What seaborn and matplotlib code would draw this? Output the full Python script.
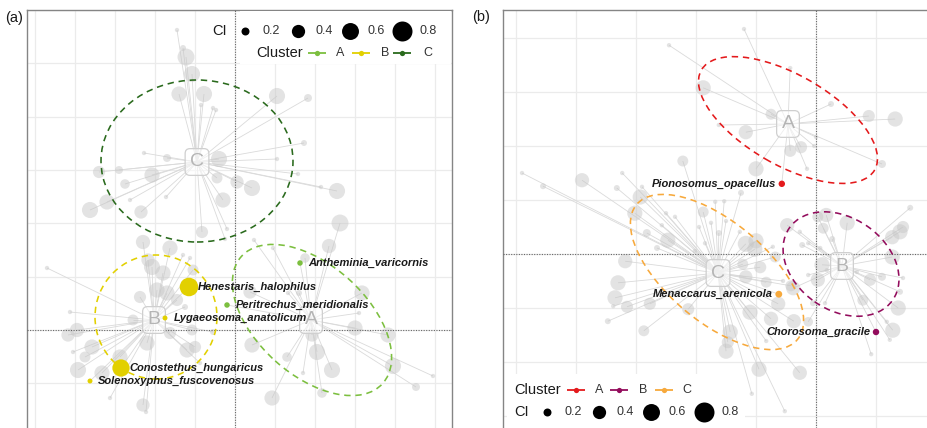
import numpy as np
import pandas as pd
import matplotlib
matplotlib.use("Agg")
import matplotlib.pyplot as plt
from matplotlib.patches import Ellipse, Rectangle
from matplotlib.collections import LineCollection
import seaborn as sns

# ── Panel (a): grey species per cluster ───────────────────────────────────
A_A_X = [0.2625, 0.235, 0.0475, 0.095, 0.1325, 0.16, 0.175, 0.0375, 0.3175, 0.31, 0.30, 0.3825,
         0.395, 0.495, 0.4525, 0.2425, 0.205, 0.1925, 0.17, 0.13, 0.2175, 0.0925, 0.0425]
A_A_Y = [0.2675, 0.21, 0.225, 0.205, 0.0925, 0.0925, 0.18, 0.095, 0.0925, 0.0425, 0.005, -0.0125,
         -0.09, -0.115, -0.1425, -0.10, -0.055, -0.0125, -0.1075, -0.0675, -0.1575, -0.17, -0.0375]
A_A_CI = [0.6, 0.45, 0.12, 0.12, 0.12, 0.15, 0.25, 0.4, 0.5, 0.12, 0.5, 0.5,
          0.55, 0.12, 0.2, 0.55, 0.55, 0.4, 0.12, 0.25, 0.25, 0.5, 0.5]

A_B_X = [-0.23, -0.1625, -0.2075, -0.18, -0.2175, -0.195, -0.17, -0.145, -0.13, -0.1125, -0.105, -0.125,
         -0.47, -0.4125, -0.395, -0.4175, -0.3575, -0.375, -0.405, -0.3925, -0.3325, -0.2875, -0.3125,
         -0.23, -0.2225, -0.22, -0.255, -0.2375, -0.12, -0.10, -0.1075, -0.055, -0.0875, -0.1625]
A_B_Y = [0.22, 0.205, 0.1575, 0.1425, 0.175, 0.10, 0.0925, 0.075, 0.1875, 0.18, 0.15, 0.0575,
         0.155, 0.045, 0.0, -0.0125, -0.0425, -0.0675, -0.055, -0.10, -0.1075, -0.0675, -0.17,
         -0.1875, -0.205, -0.0325, 0.025, 0.0825, -0.05, -0.0425, 0.0, -0.005, -0.0825, -0.0075]
A_B_CI = [0.45, 0.5, 0.55, 0.5, 0.4, 0.5, 0.5, 0.35, 0.12, 0.12, 0.3, 0.15,
          0.12, 0.12, 0.45, 0.4, 0.5, 0.3, 0.12, 0.55, 0.5, 0.5, 0.12,
          0.4, 0.12, 0.5, 0.3, 0.35, 0.5, 0.35, 0.3, 0.15, 0.12, 0.35]

A_C_X = [-0.145, -0.13, -0.1225, -0.1075, -0.14, -0.0775, -0.085, -0.055, -0.0475, 0.105, 0.1825, 0.1725,
         0.105, 0.1575, 0.215, 0.255, -0.04, -0.045, 0.005, 0.0425, -0.03, -0.2275, -0.17, -0.34,
         -0.29, -0.2075, -0.275, -0.2625, -0.1725, -0.3625, -0.32, -0.235, -0.0825, -0.025, -0.02]
A_C_Y = [0.75, 0.705, 0.6825, 0.64, 0.59, 0.59, 0.5625, 0.555, 0.55, 0.585, 0.58, 0.4675,
         0.4275, 0.39, 0.3575, 0.3475, 0.4275, 0.38, 0.37, 0.355, 0.325, 0.4425, 0.43, 0.395,
         0.40, 0.3875, 0.365, 0.325, 0.3325, 0.30, 0.32, 0.295, 0.245, 0.2275, 0.2525]
A_C_CI = [0.12, 0.15, 0.6, 0.55, 0.5, 0.55, 0.12, 0.12, 0.12, 0.55, 0.2, 0.15,
          0.12, 0.12, 0.12, 0.55, 0.55, 0.3, 0.4, 0.55, 0.5, 0.12, 0.2, 0.35,
          0.2, 0.5, 0.25, 0.12, 0.12, 0.55, 0.5, 0.4, 0.35, 0.12, 0.12]

# highlighted species (a)
A_SP_NAMES = ["Antheminia_varicornis", "Henestaris_halophilus", "Peritrechus_meridionalis",
              "Lygaeosoma_anatolicum", "Conostethus_hungaricus", "Solenoxyphus_fuscovenosus"]
A_SP_X = [0.1625, -0.115, -0.02, -0.175, -0.285, -0.3625]
A_SP_Y = [0.1675, 0.1075, 0.0625, 0.03, -0.095, -0.1275]
A_SP_CI = [0.14, 0.7, 0.14, 0.13, 0.62, 0.13]
A_SP_CL = ["A", "B", "A", "B", "B", "B"]

A_CENT_X = [0.19, -0.2025, -0.095]
A_CENT_Y = [0.025, 0.025, 0.42]
# ellipse: centre, semi-axes, angle (deg)
A_ELL_CX = [0.1925, -0.1975, -0.095]
A_ELL_CY = [0.025, 0.0325, 0.4225]
A_ELL_RA = [0.2375, 0.1525, 0.24]
A_ELL_RB = [0.1375, 0.155, 0.2025]
A_ELL_ANG = [-42, 0, 0]

# ── Panel (b) ─────────────────────────────────────────────────────────────
B_A_X = [-0.12, -0.245, -0.188, -0.043, -0.075, -0.162, -0.117, 0.025, 0.088, 0.132, 0.0, -0.003,
         -0.025, -0.043, -0.015, -0.10, 0.11]
B_A_Y = [0.375, 0.348, 0.277, 0.31, 0.233, 0.215, 0.203, 0.25, 0.23, 0.225, 0.195, 0.18,
         0.178, 0.172, 0.142, 0.142, 0.15]
B_A_CI = [0.12, 0.12, 0.5, 0.12, 0.3, 0.12, 0.45, 0.15, 0.35, 0.5, 0.12, 0.12,
          0.35, 0.35, 0.12, 0.5, 0.2]

B_B_X = [0.017, 0.052, -0.048, 0.003, 0.012, 0.027, -0.027, -0.013, -0.023, 0.007, 0.01, 0.003,
         0.018, -0.013, -0.038, -0.005, -0.013, 0.015, 0.078, 0.09, 0.11, 0.068, 0.127, 0.14,
         0.145, 0.157, 0.127, 0.137, 0.128, 0.118, 0.123, 0.14, 0.145, 0.092]
B_B_Y = [0.065, 0.052, 0.048, 0.062, 0.043, 0.025, 0.037, 0.018, 0.015, 0.01, -0.018, -0.043,
         -0.027, -0.035, -0.057, -0.082, -0.113, -0.082, -0.077, -0.043, -0.038, -0.03, 0.028, 0.037,
         0.045, 0.077, -0.005, -0.09, -0.127, -0.113, -0.143, -0.063, -0.04, -0.167]
B_B_CI = [0.45, 0.5, 0.45, 0.3, 0.3, 0.15, 0.12, 0.12, 0.15, 0.12, 0.5, 0.45,
          0.12, 0.12, 0.45, 0.15, 0.25, 0.12, 0.3, 0.35, 0.2, 0.12, 0.45, 0.5,
          0.35, 0.15, 0.5, 0.5, 0.5, 0.12, 0.12, 0.15, 0.12, 0.12]

B_C_X = [-0.49, -0.455, -0.39, -0.323, -0.332, -0.293, -0.222, -0.29, -0.302, -0.25, -0.188, -0.168,
         -0.153, -0.125, -0.282, -0.235, -0.257, -0.247, -0.265, -0.318, -0.33, -0.335, -0.338, -0.315,
         -0.347, -0.277, -0.287, -0.213, -0.195, -0.175, -0.185, -0.15, -0.162, -0.127, -0.117, -0.10,
         -0.102, -0.122, -0.117, -0.093, -0.083, -0.068, -0.072, -0.055, -0.042, -0.063, -0.11, -0.075,
         -0.037, -0.143, -0.147, -0.15, -0.083, -0.095, -0.107, -0.027, -0.052, -0.202]
B_C_Y = [0.135, 0.113, 0.123, 0.135, 0.11, 0.095, 0.155, 0.112, 0.068, 0.068, 0.07, 0.087,
         0.088, 0.102, 0.035, 0.062, 0.048, 0.023, 0.01, -0.012, -0.048, -0.073, -0.087, -0.088,
         -0.112, -0.083, -0.128, -0.092, 0.045, 0.052, 0.018, 0.055, 0.035, 0.037, 0.017, 0.022,
         0.008, -0.017, -0.038, -0.022, -0.047, -0.005, 0.012, -0.045, -0.053, -0.083, -0.097, -0.108,
         -0.112, -0.13, -0.147, -0.162, -0.145, -0.192, -0.233, -0.198, -0.262, 0.005]
B_C_CI = [0.12, 0.15, 0.45, 0.12, 0.15, 0.5, 0.3, 0.12, 0.5, 0.12, 0.3, 0.12,
          0.12, 0.15, 0.2, 0.12, 0.12, 0.5, 0.15, 0.45, 0.5, 0.5, 0.12, 0.35,
          0.15, 0.35, 0.3, 0.35, 0.12, 0.12, 0.12, 0.12, 0.15, 0.12, 0.55, 0.5,
          0.5, 0.3, 0.4, 0.35, 0.3, 0.3, 0.12, 0.12, 0.3, 0.45, 0.5, 0.45,
          0.45, 0.5, 0.35, 0.5, 0.12, 0.5, 0.12, 0.45, 0.12, 0.12]

B_SP_NAMES = ["Pionosomus_opacellus", "Menaccarus_arenicola", "Chorosoma_gracile"]
B_SP_X = [-0.057, -0.062, 0.1]
B_SP_Y = [0.117, -0.067, -0.13]
B_SP_CI = [0.16, 0.17, 0.16]
B_SP_CL = ["A", "C", "B"]

B_CENT_X = [-0.0467, 0.0433, -0.1633]
B_CENT_Y = [0.2167, -0.02, -0.0317]
B_ELL_CX = [-0.0467, 0.0417, -0.165]
B_ELL_CY = [0.2233, -0.0167, -0.03]
B_ELL_RA = [0.1667, 0.105, 0.175]
B_ELL_RB = [0.075, 0.0767, 0.0833]
B_ELL_ANG = [-30, -35, -40]

CLUSTERS = ["A", "B", "C"]
CI_LEVELS = [0.2, 0.4, 0.6, 0.8]
PAL_A = {"A": "#7cbf3f", "B": "#e2d000", "C": "#2a6a1d"}
PAL_B = {"A": "#e41a1c", "B": "#930c5c", "C": "#f7a93c"}

SIZES = (4, 236)
SIZE_NORM = (0.1, 0.9)


def ci_area(v):
    return SIZES[0] + (v - SIZE_NORM[0]) / (SIZE_NORM[1] - SIZE_NORM[0]) * (SIZES[1] - SIZES[0])


def frame(groups):
    rows = []
    for cl, xs, ys, cis in groups:
        for x, y, c in zip(xs, ys, cis):
            rows.append((cl, x, y, c))
    return pd.DataFrame(rows, columns=["cluster", "x", "y", "ci"])


def draw_panel(ax, pts, sp, names, cent_x, cent_y, ell, pal, xlim, ylim, xstep, ystep, side):
    ax.set_xticks(np.arange(-8, 9) * xstep)
    ax.set_yticks(np.arange(-8, 9) * ystep)
    ax.set_xlim(*xlim)
    ax.set_ylim(*ylim)
    ax.set_xticklabels([])
    ax.set_yticklabels([])
    ax.tick_params(length=0)
    ax.grid(True, color="#ebebeb", lw=0.9)
    ax.set_axisbelow(True)

    cx = dict(zip(CLUSTERS, cent_x))
    cy = dict(zip(CLUSTERS, cent_y))
    allp = pd.concat([pts, sp])
    segs = [[(r.x, r.y), (cx[r.cluster], cy[r.cluster])] for r in allp.itertuples()]
    ax.add_collection(LineCollection(segs, colors="#dadada", linewidths=0.6, zorder=2))

    sns.scatterplot(data=pts, x="x", y="y", size="ci", sizes=SIZES, size_norm=SIZE_NORM,
                    color="#c6c6c6", alpha=0.48, linewidth=0, legend=False, ax=ax, zorder=3)

    ax.axhline(0, color="#666666", lw=0.8, ls=(0, (1, 1.3)), zorder=4)
    ax.axvline(0, color="#666666", lw=0.8, ls=(0, (1, 1.3)), zorder=4)

    for k, ex, ey, ra, rb, ang in zip(CLUSTERS, *ell):
        ax.add_patch(Ellipse((ex, ey), 2 * ra, 2 * rb, angle=ang, fill=False, ec=pal[k],
                             lw=1.15, ls=(0, (4, 3)), zorder=5))

    for k in CLUSTERS:
        ax.text(cx[k], cy[k], k, ha="center", va="center", fontsize=14, color="#b5b5b5", zorder=6,
                bbox=dict(boxstyle="round,pad=0.25", fc=(1, 1, 1, 0.55), ec="#cfcfcf", lw=0.9))

    sns.scatterplot(data=sp, x="x", y="y", hue="cluster", palette=pal, size="ci", sizes=SIZES,
                    size_norm=SIZE_NORM, linewidth=0, legend=False, ax=ax, zorder=7)
    dx = 6 if side == "right" else -4
    ha = "left" if side == "right" else "right"
    for name, x, y in zip(names, sp["x"], sp["y"]):
        ax.annotate(name, (x, y), xytext=(dx, 0), textcoords="offset points", ha=ha, va="center",
                    fontsize=8, fontweight="bold", fontstyle="italic", color="#1a1a1a", zorder=8)
    ax.set_xlabel("")
    ax.set_ylabel("")
    for s in ax.spines.values():
        s.set_color("#858585")
        s.set_linewidth(1.0)
    ax.spines["bottom"].set_visible(False)


def size_row(ax, y, xt, xc, xl, ha_lab):
    ax.text(xt, y, "CI", transform=ax.transAxes, fontsize=10.5, va="center", ha="left",
            color="#1a1a1a", zorder=12)
    for v, a, b in zip(CI_LEVELS, xc, xl):
        ax.scatter([a], [y], s=ci_area(v), color="black", transform=ax.transAxes,
                   clip_on=False, zorder=12, linewidth=0)
        ax.text(b, y, f"{v}", transform=ax.transAxes, fontsize=9, va="center", ha=ha_lab,
                color="#333333", zorder=12)


def cluster_row(ax, y, xt, xg, xl, pal):
    ax.text(xt, y, "Cluster", transform=ax.transAxes, fontsize=10.5, va="center", ha="left",
            color="#1a1a1a", zorder=12)
    for k, a, b in zip(CLUSTERS, xg, xl):
        ax.plot([a - 0.021, a + 0.021], [y, y], color=pal[k], lw=1.3, transform=ax.transAxes,
                zorder=12, solid_capstyle="butt")
        ax.plot([a], [y], "o", ms=3.8, color=pal[k], transform=ax.transAxes, zorder=12, mew=0)
        ax.text(b, y, k, transform=ax.transAxes, fontsize=9, va="center", ha="center",
                color="#333333", zorder=12)


sns.set_theme(style="white")
plt.rcParams["font.family"] = ["Liberation Sans", "DejaVu Sans"]

fig = plt.figure(figsize=(9.27, 4.28), dpi=100)
ax_a = fig.add_axes([27 / 927, 0, 425 / 927, 418 / 428])
ax_b = fig.add_axes([503 / 927, 0, 424 / 927, 418 / 428])

pts_a = frame([("A", A_A_X, A_A_Y, A_A_CI), ("B", A_B_X, A_B_Y, A_B_CI), ("C", A_C_X, A_C_Y, A_C_CI)])
sp_a = pd.DataFrame({"cluster": A_SP_CL, "x": A_SP_X, "y": A_SP_Y, "ci": A_SP_CI})
draw_panel(ax_a, pts_a, sp_a, A_SP_NAMES, A_CENT_X, A_CENT_Y,
           (A_ELL_CX, A_ELL_CY, A_ELL_RA, A_ELL_RB, A_ELL_ANG), PAL_A,
           (-0.52, 0.5425), (-0.245, 0.8), 0.1, 0.4 / 3, "right")

pts_b = frame([("A", B_A_X, B_A_Y, B_A_CI), ("B", B_B_X, B_B_Y, B_B_CI), ("C", B_C_X, B_C_Y, B_C_CI)])
sp_b = pd.DataFrame({"cluster": B_SP_CL, "x": B_SP_X, "y": B_SP_Y, "ci": B_SP_CI})
draw_panel(ax_b, pts_b, sp_b, B_SP_NAMES, B_CENT_X, B_CENT_Y,
           (B_ELL_CX, B_ELL_CY, B_ELL_RA, B_ELL_RB, B_ELL_ANG), PAL_B,
           (-0.5217, 0.185), (-0.29, 0.4067), 0.1, 0.09, "left")
ax_b.spines["right"].set_visible(False)

# legends (a): top right
ax_a.add_patch(Rectangle((0.5, 0.872), 0.497, 0.126, transform=ax_a.transAxes, fc="white",
                         ec="none", zorder=11))
size_row(ax_a, 0.95, 0.436, [0.513, 0.638, 0.760, 0.882], [0.553, 0.680, 0.800, 0.923], "left")
cluster_row(ax_a, 0.897, 0.539, [0.682, 0.786, 0.882], [0.736, 0.842, 0.944], PAL_A)

# legends (b): bottom left
ax_b.add_patch(Rectangle((0.01, 0.0), 0.56, 0.128, transform=ax_b.transAxes, fc="white",
                         ec="none", zorder=11))
cluster_row(ax_b, 0.091, 0.026, [0.173, 0.274, 0.380], [0.226, 0.330, 0.434], PAL_B)
size_row(ax_b, 0.038, 0.026, [0.104, 0.226, 0.349, 0.474], [0.165, 0.288, 0.410, 0.535], "center")

fig.text(14 / 927, 1 - 18 / 428, "(a)", fontsize=10.5, ha="center", va="center", color="#1a1a1a")
fig.text(481 / 927, 1 - 17 / 428, "(b)", fontsize=10.5, ha="center", va="center", color="#1a1a1a")

fig.savefig("out.png", dpi=100)
